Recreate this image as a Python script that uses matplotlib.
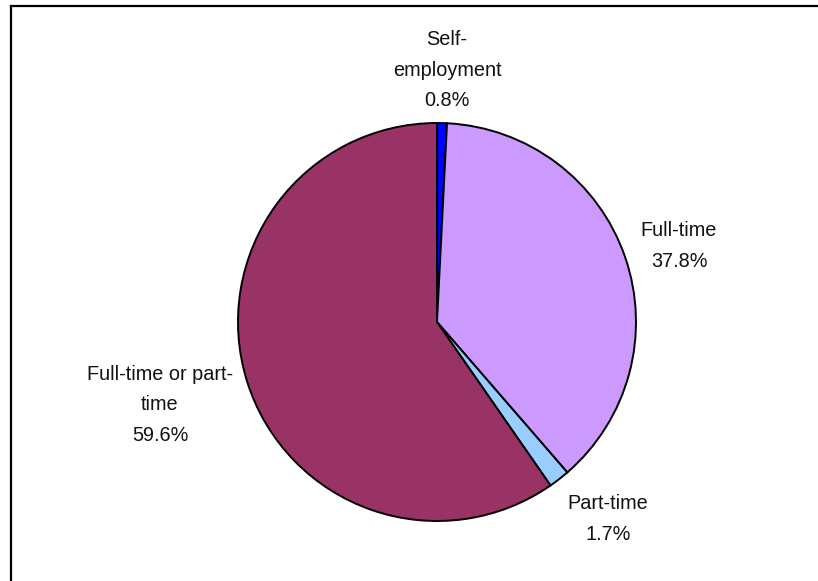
import matplotlib
matplotlib.use("Agg")
import matplotlib.pyplot as plt

categories = ["Self-\nemployment", "Full-time", "Part-time", "Full-time or part-\ntime"]
values = [0.8, 37.8, 1.7, 59.6]
colors = ["#0000FF", "#CC99FF", "#99CCFF", "#993366"]

W, H = 818, 581
fig = plt.figure(figsize=(W / 100, H / 100), dpi=100)
ax = fig.add_axes([0, 0, 1, 1])

cx, cy, r = 437, H - 322, 199
ax.pie(values, colors=colors, startangle=90, counterclock=False,
       center=(cx, cy), radius=r, frame=True,
       wedgeprops=dict(edgecolor="black", linewidth=1.4))
ax.set_xlim(0, W)
ax.set_ylim(0, H)
ax.set_aspect("equal")
ax.axis("off")

label_pos = [(447, 70), (679, 246), (608, 519), (160, 405)]
for name, v, (px, py) in zip(categories, values, label_pos):
    ax.text(px, H - py, f"{name}\n{v:.1f}%", ha="center", va="center",
            fontsize=14.3, family=["Liberation Sans", "DejaVu Sans"],
            linespacing=1.75, color="#111111")

# outer frame (only top and left edges are visible)
ax.plot([11, W + 5], [H - 6, H - 6], color="black", lw=1.6, clip_on=False)
ax.plot([11, 11], [H - 6, -5], color="black", lw=1.6, clip_on=False)

fig.savefig("out.png", dpi=100)
